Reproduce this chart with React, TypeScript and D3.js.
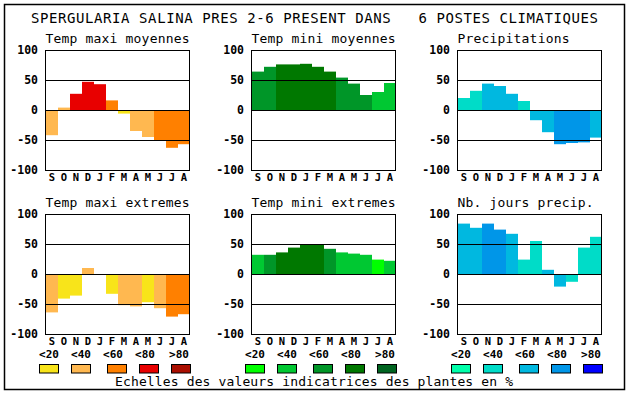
import React from "react";
import * as d3 from "d3";

const months = ["S", "O", "N", "D", "J", "F", "M", "A", "M", "J", "J", "A"];
const mainTitle = "SPERGULARIA SALINA PRES 2-6 PRESENT DANS   6 POSTES CLIMATIQUES";
const caption = "Echelles des valeurs indicatrices des plantes en %";
const yTicks = [100, 50, 0, -50, -100];
const legendLabels = ["<20", "<40", "<60", "<80", ">80"];

const warmColors = ["#f8e41a", "#ffb850", "#ff8000", "#e80000", "#aa0e00"];
const greenColors = ["#00ff00", "#00c832", "#009628", "#007800", "#006420"];
const blueColors = ["#00ffaa", "#00dcc8", "#00b8e0", "#0096e8", "#0000ff"];

// Panel values and colour classes
const tmaxMoyTitle = "Temp maxi moyennes";
const tmaxMoyValues = [-42, 4, 27, 47, 43, 16, -6, -35, -45, -50, -63, -57];
const tmaxMoyClass = [1, 1, 3, 3, 3, 2, 0, 1, 1, 2, 2, 2];

const tminMoyTitle = "Temp mini moyennes";
const tminMoyValues = [64, 72, 76, 76, 77, 72, 64, 54, 44, 25, 30, 45];
const tminMoyClass = [2, 2, 3, 3, 3, 3, 3, 2, 2, 2, 1, 1];

const precTitle = "Precipitations";
const precValues = [20, 32, 44, 40, 27, 15, -17, -37, -57, -55, -54, -46];
const precClass = [1, 1, 2, 2, 2, 1, 2, 2, 3, 3, 3, 2];

const tmaxExtTitle = "Temp maxi extremes";
const tmaxExtValues = [-64, -41, -36, 10, 0, -33, -52, -54, -47, -57, -71, -67];
const tmaxExtClass = [1, 0, 0, 1, 0, 0, 1, 1, 0, 1, 2, 2];

const tminExtTitle = "Temp mini extremes";
const tminExtValues = [32, 32, 36, 44, 49, 49, 42, 36, 34, 32, 24, 22];
const tminExtClass = [1, 2, 3, 3, 3, 3, 2, 1, 1, 1, 0, 1];

const joursTitle = "Nb. jours precip.";
const joursValues = [84, 77, 84, 74, 67, 24, 55, 7, -21, -13, 44, 62];
const joursClass = [2, 2, 3, 3, 2, 1, 1, 2, 2, 1, 1, 1];

const MONO = "'DejaVu Sans Mono', 'Liberation Mono', monospace";

type PanelProps = {
  left: number;
  top: number;
  title: string;
  values: number[];
  classes: number[];
  palette: string[];
};

function Panel({ left, top, title, values, classes, palette }: PanelProps) {
  const w = 144;
  const h = 120;
  const x = d3.scaleBand<string>().domain(months.map((_, i) => String(i))).range([left, left + w]).padding(0);
  const y = d3.scaleLinear().domain([-100, 100]).range([top + h, top]);
  return (
    <g>
      <text x={left + 0.5} y={top - 7.5} textAnchor="start" fontFamily={MONO} fontSize={13}
        textLength={title.length * 8} lengthAdjust="spacing">{title}</text>
      <rect x={left + 0.5} y={top + 0.5} width={w} height={h} fill="white" stroke="black" strokeWidth={1} />
      {values.map((v, i) => (
        <rect key={i} x={x(String(i))! + 1} y={Math.min(y(v), y(0))} width={x.bandwidth()}
          height={Math.abs(y(v) - y(0))} fill={palette[classes[i]]} />
      ))}
      {[50, 0, -50].map((t) => (
        <line key={t} x1={left} x2={left + w} y1={Math.round(y(t)) + 0.5} y2={Math.round(y(t)) + 0.5}
          stroke="black" strokeWidth={1} />
      ))}
      <rect x={left + 0.5} y={top + 0.5} width={w} height={h} fill="none" stroke="black" strokeWidth={1} />
      {yTicks.map((t) => (
        <text key={t} x={left - 7} y={y(t)} dy="0.35em" textAnchor="end" fontFamily={MONO}
          fontWeight="bold" fontSize={11.5}>{t}</text>
      ))}
      {months.map((m, i) => (
        <text key={i} x={x(String(i))! + x.bandwidth() / 2 + 1} y={top + h + 11} textAnchor="middle"
          fontFamily={MONO} fontWeight="bold" fontSize={10.5}>{m}</text>
      ))}
    </g>
  );
}

function Legend({ left, palette }: { left: number; palette: string[] }) {
  const boxOffsets = [0, 32, 68, 100, 132];
  const labelOffsets = [10, 42, 74, 106, 140];
  return (
    <g>
      {legendLabels.map((l, i) => (
        <text key={l} x={left + labelOffsets[i]} y={357.5} textAnchor="middle" fontFamily={MONO}
          fontWeight="bold" fontSize={11}>{l}</text>
      ))}
      {palette.map((c, i) => (
        <rect key={i} x={left + boxOffsets[i] + 0.5} y={364.5} width={19} height={8.5} fill={c}
          stroke="black" strokeWidth={1} />
      ))}
    </g>
  );
}

export default function App() {
  const lefts = [45, 251, 457];
  return (
    <svg width={630} height={394} style={{ position: "absolute", left: 0, top: 0 }}>
      <rect x={0} y={0} width={630} height={394} fill="white" />
      <rect x={4.5} y={4.5} width={620} height={385} fill="none" stroke="black" strokeWidth={1.5} />
      <text x={31} y={23} fontFamily={MONO} fontSize={14} textLength={567} lengthAdjust="spacing">
        {mainTitle.replace(/ /g, "\u00a0")}
      </text>
      <Panel left={lefts[0]} top={50} title={tmaxMoyTitle} values={tmaxMoyValues} classes={tmaxMoyClass} palette={warmColors} />
      <Panel left={lefts[1]} top={50} title={tminMoyTitle} values={tminMoyValues} classes={tminMoyClass} palette={greenColors} />
      <Panel left={lefts[2]} top={50} title={precTitle} values={precValues} classes={precClass} palette={blueColors} />
      <Panel left={lefts[0]} top={214} title={tmaxExtTitle} values={tmaxExtValues} classes={tmaxExtClass} palette={warmColors} />
      <Panel left={lefts[1]} top={214} title={tminExtTitle} values={tminExtValues} classes={tminExtClass} palette={greenColors} />
      <Panel left={lefts[2]} top={214} title={joursTitle} values={joursValues} classes={joursClass} palette={blueColors} />
      <Legend left={39} palette={warmColors} />
      <Legend left={245} palette={greenColors} />
      <Legend left={451} palette={blueColors} />
      <text x={115} y={386} fontFamily={MONO} fontSize={13} textLength={398} lengthAdjust="spacing">{caption}</text>
    </svg>
  );
}
